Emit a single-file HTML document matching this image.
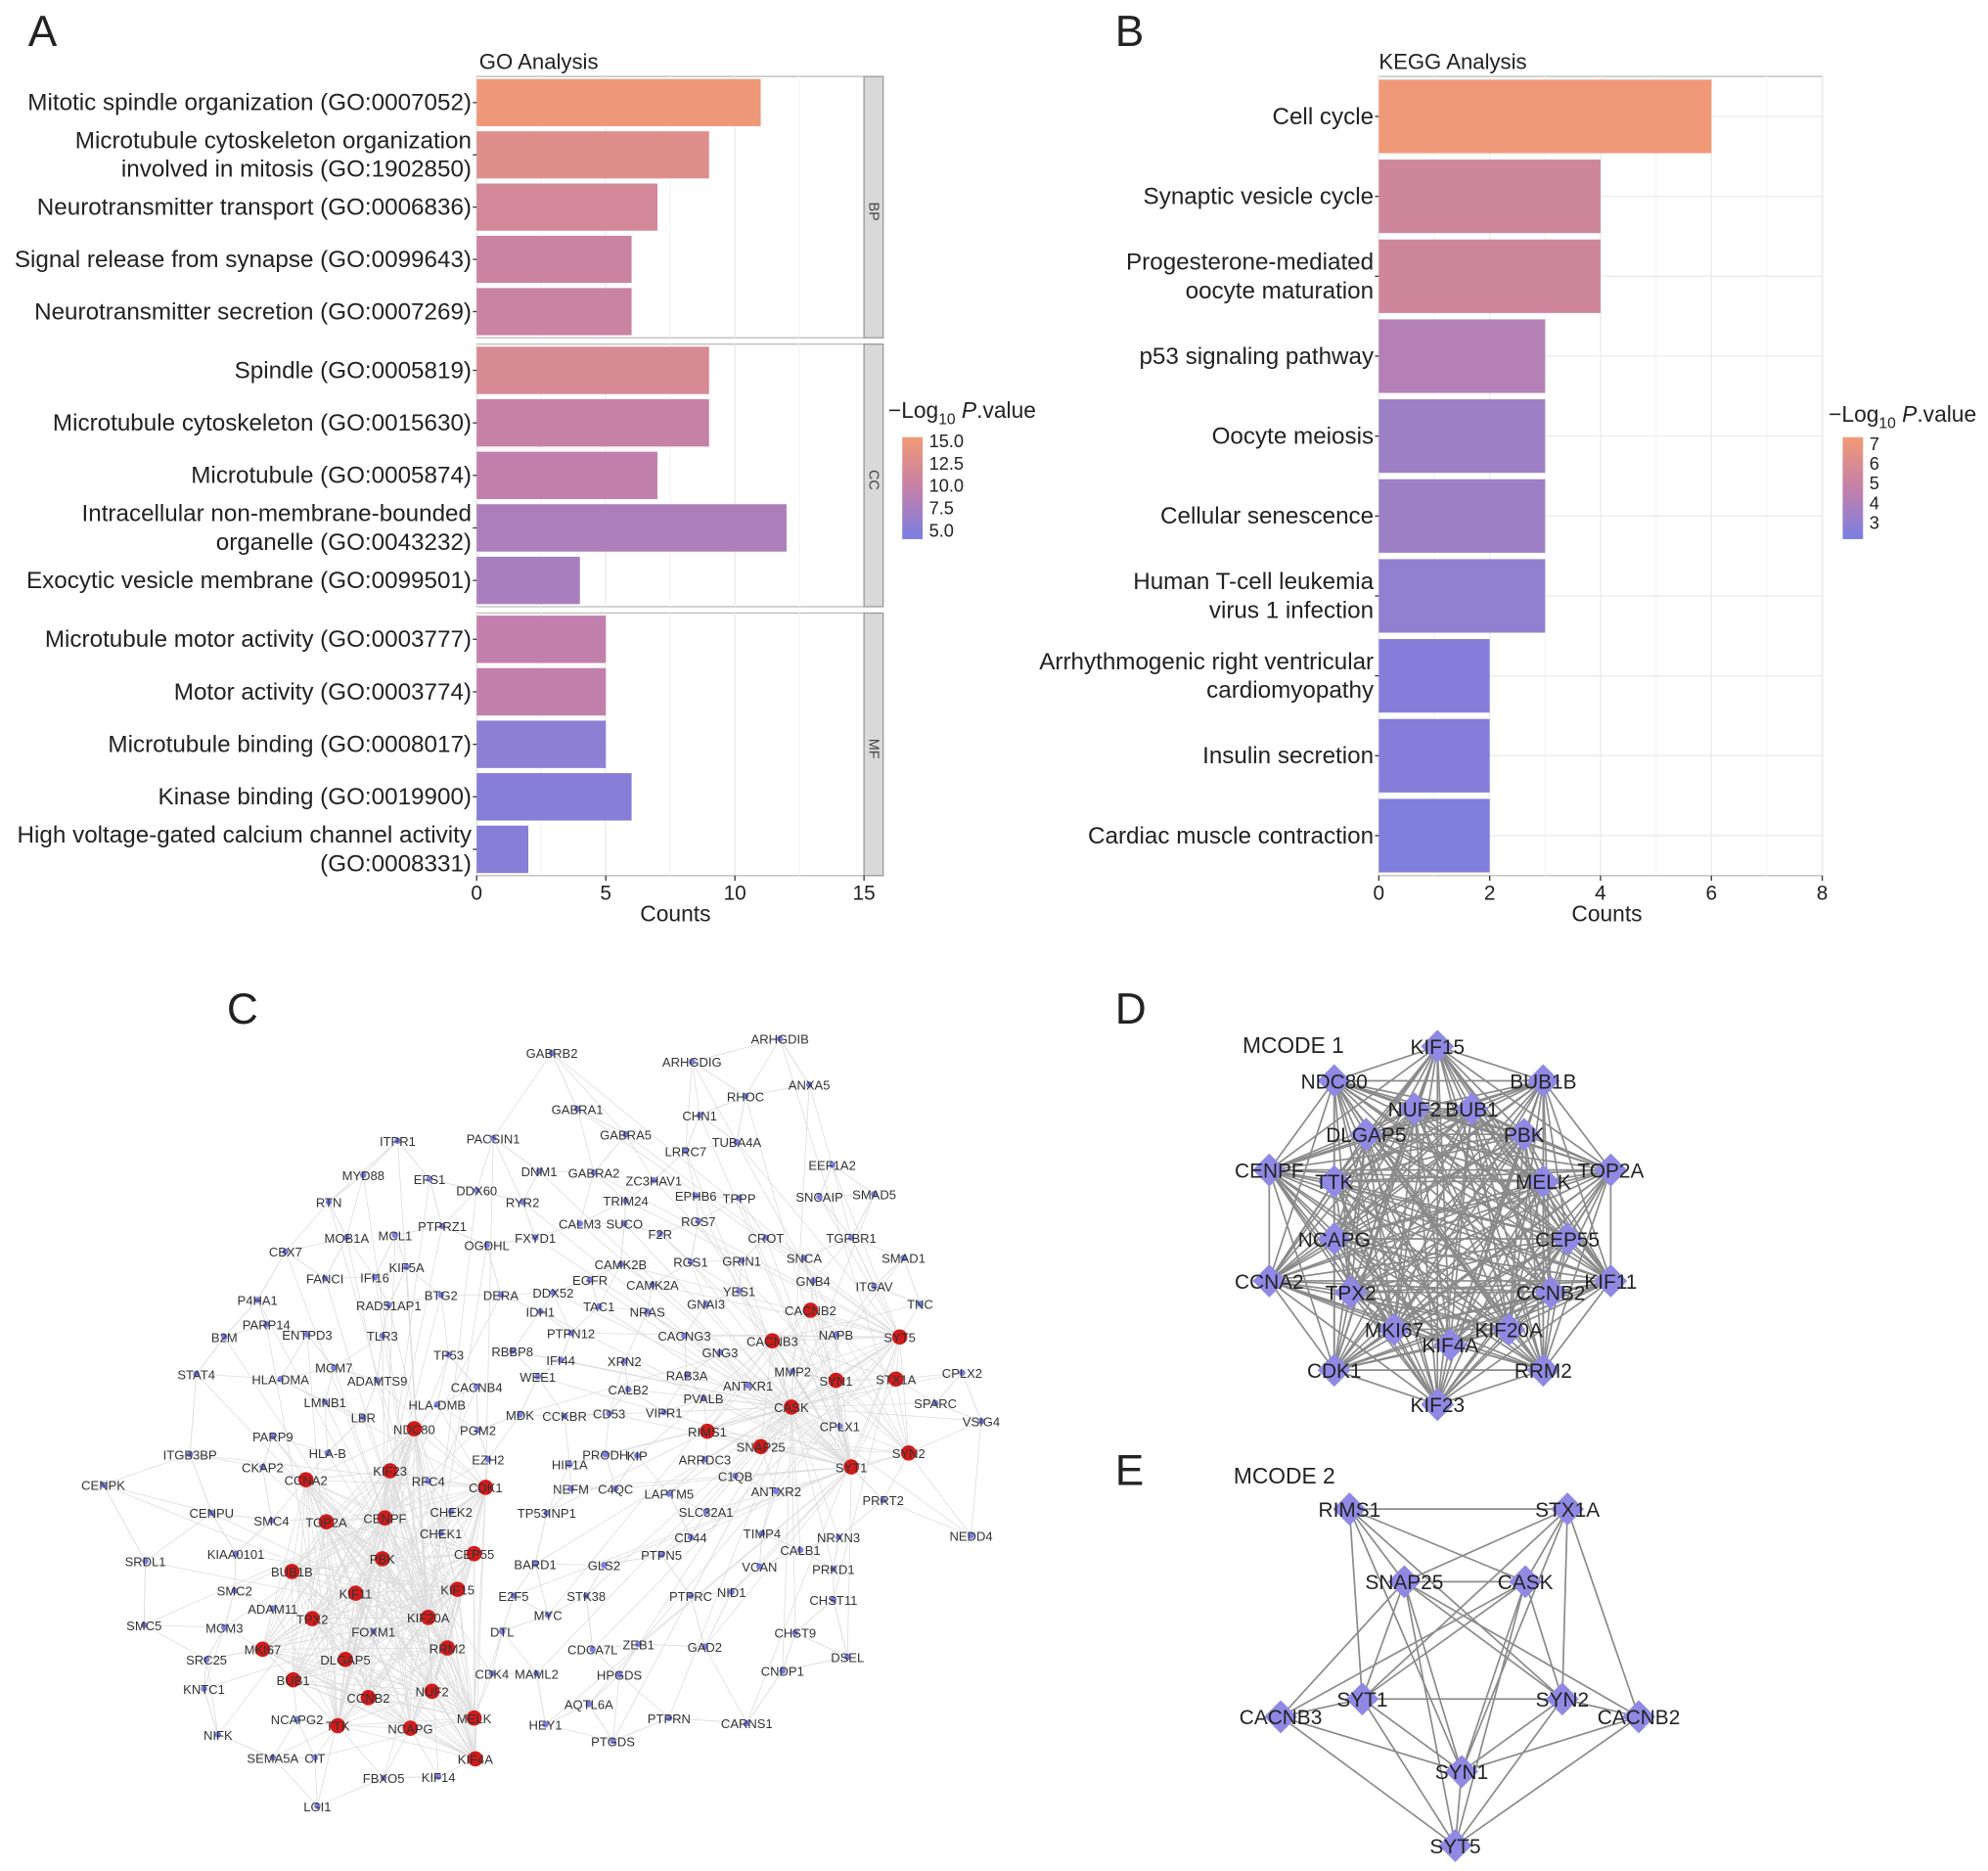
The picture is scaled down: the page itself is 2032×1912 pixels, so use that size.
<!DOCTYPE html>
<html><head><meta charset="utf-8"><style>
html,body{margin:0;padding:0;background:#fff;}
svg{display:block;font-family:"Liberation Sans",Arial,sans-serif;}
</style></head><body>
<svg id="s" width="2032" height="1912" viewBox="0 0 1560 1468" xmlns="http://www.w3.org/2000/svg"></svg>
<script>
// ---- Panel A data ----
const goTerms=[["Mitotic spindle organization (GO:0007052)"],["Microtubule cytoskeleton organization","involved in mitosis (GO:1902850)"],["Neurotransmitter transport (GO:0006836)"],["Signal release from synapse (GO:0099643)"],["Neurotransmitter secretion (GO:0007269)"],["Spindle (GO:0005819)"],["Microtubule cytoskeleton (GO:0015630)"],["Microtubule (GO:0005874)"],["Intracellular non-membrane-bounded","organelle (GO:0043232)"],["Exocytic vesicle membrane (GO:0099501)"],["Microtubule motor activity (GO:0003777)"],["Motor activity (GO:0003774)"],["Microtubule binding (GO:0008017)"],["Kinase binding (GO:0019900)"],["High voltage-gated calcium channel activity","(GO:0008331)"]];
const goCounts=[11,9,7,6,6,9,9,7,12,4,5,5,5,6,2];
const goLogP=[15,13,11.5,10.5,10.5,12,10,9.5,8,7.5,9.5,9.5,5.5,5,5];
const goFacets=["BP","CC","MF"];
const goTicks=[0,5,10,15];
const goLegend=["15.0","12.5","10.0","7.5","5.0"];
// ---- Panel B data ----
const keggTerms=[["Cell cycle"],["Synaptic vesicle cycle"],["Progesterone-mediated","oocyte maturation"],["p53 signaling pathway"],["Oocyte meiosis"],["Cellular senescence"],["Human T-cell leukemia","virus 1 infection"],["Arrhythmogenic right ventricular","cardiomyopathy"],["Insulin secretion"],["Cardiac muscle contraction"]];
const keggCounts=[6,4,4,3,3,3,3,2,2,2];
const keggLogP=[7,5.3,5.3,4.3,3.6,3.6,3.2,2.8,2.8,2.7];
const keggTicks=[0,2,4,6,8];
const keggLegend=["7","6","5","4","3"];

const S=document.getElementById('s');
const NS="http://www.w3.org/2000/svg";
function el(t,a,p){const e=document.createElementNS(NS,t);for(const k in a)e.setAttribute(k,a[k]);(p||S).appendChild(e);return e;}
function txt(x,y,s,a,p){const e=el('text',Object.assign({x:x,y:y,fill:'#222'},a),p);e.textContent=s;return e;}
function lerp(a,b,t){return Math.round(a+(b-a)*t);}
function col(t){t=Math.max(0,Math.min(1,t));const lo=[122,126,226],mi=[196,128,168],hi=[242,154,118];let a,b,u;if(t<.5){a=lo;b=mi;u=t/.5;}else{a=mi;b=hi;u=(t-.5)/.5;}return `rgb(${lerp(a[0],b[0],u)},${lerp(a[1],b[1],u)},${lerp(a[2],b[2],u)})`;}
function gradDef(id){const d=el('defs',{});const g=el('linearGradient',{id:id,x1:0,y1:1,x2:0,y2:0},d);for(let i=0;i<=10;i++)el('stop',{offset:i/10,'stop-color':col(i/10)},g);}
gradDef('cb');

[["A",22,36],["B",875,36],["C",178,803],["D",875,803],["E",875,1165]].forEach(l=>{const t=txt(l[1],l[2],l[0],{'font-size':34});});

// ---- Panel A ----
(function(){
const g=el('g',{});
const x0=374,x1=678,xmax=15;const X=v=>x0+(x1-x0)*v/xmax;
const facetY=[[60,265],[270,476],[481,687]];
txt(376,54,"GO Analysis",{'font-size':17},g);
facetY.forEach((f,fi)=>{
  el('rect',{x:x0,y:f[0],width:x1-x0,height:f[1]-f[0],fill:'#fff',stroke:'#bbb','stroke-width':1},g);
  goTicks.forEach(t=>el('line',{x1:X(t),x2:X(t),y1:f[0],y2:f[1],stroke:'#ebebeb'},g));
  [2.5,7.5,12.5].forEach(t=>el('line',{x1:X(t),x2:X(t),y1:f[0],y2:f[1],stroke:'#f5f5f5'},g));
  const st=el('rect',{x:x1,y:f[0],width:15,height:f[1]-f[0],fill:'#d9d9d9',stroke:'#999'},g);
  
  const cy=(f[0]+f[1])/2;txt(x1+7.5,cy,goFacets[fi],{'font-size':11,'text-anchor':'middle',transform:`rotate(90 ${x1+4} ${cy})`,fill:'#444'},g);
});
goCounts.forEach((c,i)=>{
  const fi=Math.floor(i/5),k=i%5,f=facetY[fi],bh=(f[1]-f[0])/5;const y=f[0]+k*bh;
  const r=el('rect',{x:x0,y:y+2,width:X(c)-x0,height:bh-4,fill:col((goLogP[i]-4)/11.5)},g);
  
  const lines=goTerms[i];const cy=y+bh/2;
  lines.forEach((s,j)=>txt(370,cy+6+(j-(lines.length-1)/2)*22.5,s,{'font-size':18.6,'text-anchor':'end'},g));
  el('line',{x1:x0-3,x2:x0,y1:cy,y2:cy,stroke:'#333'},g);
});
goTicks.forEach(t=>{el('line',{x1:X(t),x2:X(t),y1:687,y2:691,stroke:'#333'},g);txt(X(t),706,String(t),{'font-size':16,'text-anchor':'middle'},g);});
const xt=txt(530,723,"Counts",{'font-size':17.5,'text-anchor':'middle'},g);
const lg=el('g',{},g);
const lt=txt(697,328,"",{'font-size':17.5},lg);lt.innerHTML='−Log<tspan font-size="12" dy="5">10</tspan><tspan dy="-5"> </tspan><tspan font-style="italic">P</tspan>.value';
el('rect',{x:708,y:343,width:16,height:80,fill:'url(#cb)'},lg);
goLegend.forEach((s,i)=>txt(729,351+i*17.5,s,{'font-size':14},lg));
})();

// ---- Panel B ----
(function(){
const g=el('g',{});
const x0=1082,x1=1430,xmax=8;const X=v=>x0+(x1-x0)*v/xmax;const y0=60,y1=687;
txt(1082,54,"KEGG Analysis",{'font-size':17},g);
el('rect',{x:x0,y:y0,width:x1-x0,height:y1-y0,fill:'#fff',stroke:'#bbb'},g);
keggTicks.forEach(t=>el('line',{x1:X(t),x2:X(t),y1:y0,y2:y1,stroke:'#ebebeb'},g));
[1,3,5,7].forEach(t=>el('line',{x1:X(t),x2:X(t),y1:y0,y2:y1,stroke:'#f5f5f5'},g));
const bh=(y1-y0)/keggCounts.length;
keggCounts.forEach((c,i)=>{
  const y=y0+i*bh;el('line',{x1:x0,x2:x1,y1:y+bh/2,y2:y+bh/2,stroke:'#ebebeb'},g);
  const r=el('rect',{x:x0,y:y+2.5,width:X(c)-x0,height:bh-5,fill:col((keggLogP[i]-2.5)/4.6)},g);
  
  const lines=keggTerms[i];const cy=y+bh/2;
  lines.forEach((s,j)=>txt(1078,cy+6+(j-(lines.length-1)/2)*22.5,s,{'font-size':18.6,'text-anchor':'end'},g));
  el('line',{x1:x0-3,x2:x0,y1:cy,y2:cy,stroke:'#333'},g);
});
keggTicks.forEach(t=>{el('line',{x1:X(t),x2:X(t),y1:y1,y2:y1+4,stroke:'#333'},g);txt(X(t),706,String(t),{'font-size':16,'text-anchor':'middle'},g);});
const xt=txt(1261,723,"Counts",{'font-size':17.5,'text-anchor':'middle'},g);
const lg=el('g',{},g);
const lt=txt(1435,331,"",{'font-size':17.5},lg);lt.innerHTML='−Log<tspan font-size="12" dy="5">10</tspan><tspan dy="-5"> </tspan><tspan font-style="italic">P</tspan>.value';
el('rect',{x:1446,y:343,width:16,height:80,fill:'url(#cb)'},lg);
keggLegend.forEach((s,i)=>txt(1467,353+i*15.5,s,{'font-size':14},lg));
})();

// ---- Panel C network ----
const netNodes=`GABRB2 433 826;ARHGDIB 612 815;ARHGDIG 543 833;ANXA5 635 851;RHOC 585 860;GABRA1 453 870;CHN1 549 875;GABRA5 491 890;TUBA4A 578 896;ITPR1 312 895;PACSIN1 387 893;LRRC7 538 903;MYD88 285 922;EFS1 337 925;DNM1 423 919;GABRA2 466 920;ZC3HAV1 513 926;EEF1A2 653 914;DDX60 374 934;RYR2 410 943;TRIM24 491 942;EPHB6 546 938;TPPP 580 940;SNCAIP 643 939;SMAD5 686 937;RTN 258 943;MCL1 310 969;PTPRZ1 347 962;CALM3 455 960;SUCO 490 960;RGS7 548 958;MOB1A 272 971;OGDHL 382 977;FXYD1 420 971;F2R 518 968;CROT 601 971;TGFBR1 668 971;CBX7 224 982;IFI16 294 1002;KIF5A 319 994;FANCI 255 1003;CAMK2B 487 992;RGS1 542 990;GRIN1 582 989;SNCA 631 987;SMAD1 709 987;EGFR 463 1004;GNB4 638 1005;ITGAV 686 1009;P4HA1 202 1020;RAD51AP1 305 1024;BTG2 346 1016;DERA 393 1016;DDX52 434 1014;CAMK2A 512 1008;YES1 580 1013;TNC 722 1023;PARP14 209 1039;IDH1 424 1029;TAC1 470 1025;NRAS 508 1029;GNAI3 554 1023;CACNB2 636 1028 r;B2M 176 1049;ENTPD3 241 1047;TLR3 300 1048;PTPN12 448 1046;CACNG3 537 1048;CACNB3 606 1052 r;NAPB 656 1047;SYT5 706 1049 r;TP53 352 1063;RBBP8 402 1060;GNG3 565 1061;IFI44 440 1067;XRN2 490 1068;STAT4 154 1078;HLA-DMA 220 1082;MCM7 262 1073;ADAMTS9 296 1083;RAB3A 539 1079;MMP2 622 1076;SYN1 656 1083 r;STX1A 703 1082 r;CPLX2 755 1077;CACNB4 374 1088;WEE1 422 1080;CALB2 493 1090;ANTXR1 587 1087;LMNB1 255 1100;HLA-DMB 343 1102;PVALB 552 1097;SPARC 734 1101;LBR 285 1112;NDC80 325 1121 r;MDK 408 1110;CCKBR 443 1111;CD53 478 1109;VIPR1 521 1108;CASK 621 1104 r;CPLX1 659 1119;VSIG4 770 1115;PARP9 214 1127;PGM2 375 1122;RIMS1 555 1123 r;ITGB3BP 149 1141;HLA-B 257 1140;EZH2 383 1145;HIF1A 447 1149;PRODH 475 1141;KIP 500 1142;ARRDC3 553 1145;SNAP25 597 1135 r;SYT1 668 1151 r;SYN2 713 1140 r;CKAP2 206 1151;KIF23 306 1154 r;CCNA2 240 1161 r;RFC4 336 1162;CDK1 381 1167 r;C1QB 577 1158;CENPK 81 1165;NEFM 448 1168;C4QC 483 1168;LAPTM5 525 1172;ANTXR2 609 1170;PRRT2 693 1177;CENPU 166 1187;SMC4 213 1193;TOP2A 256 1194 r;CENPF 302 1191 r;CHEK2 354 1186;TP53INP1 429 1187;SLC32A1 554 1186;CHEK1 346 1203;CD44 542 1206;TIMP4 598 1203;NRXN3 658 1206;NEDD4 762 1205;SRDL1 114 1225;KIAA0101 185 1219;BUB1B 229 1233 r;PBK 300 1223 r;CEP55 372 1219 r;BARD1 420 1227;GLS2 474 1228;PTPN5 519 1220;CALB1 628 1216;PRKD1 654 1231;VCAN 596 1229;SMC2 184 1248;KIF11 279 1250 r;KIF15 359 1247 r;E2F5 403 1252;STK38 460 1252;PTPRC 542 1252;NID1 574 1249;CHST11 654 1255;ADAM11 214 1262;TPX2 245 1270 r;KIF20A 336 1269 r;MYC 430 1267;FOXM1 293 1280;DTL 394 1280;SMC5 113 1275;MCM3 176 1277;CDCA7L 465 1294;ZEB1 501 1290;GAD2 553 1292;CHST9 624 1281;DSEL 665 1300;SRC25 162 1302;MKI67 206 1294 r;DLGAP5 271 1302 r;RRM2 351 1293 r;CDK4 386 1313;MAML2 421 1313;HPGDS 486 1314;CNDP1 614 1311;BUB1 230 1318 r;KNTC1 160 1325;CCNB2 289 1332 r;NUF2 339 1327 r;AQTL6A 462 1337;NCAPG2 233 1349;TTK 265 1354 r;NCAPG 322 1356 r;MELK 372 1348 r;HEY1 428 1353;PTPRN 525 1348;CARNS1 586 1352;NIFK 171 1361;PTGDS 481 1366;SEMA5A 214 1379;CIT 247 1379;KIF4A 373 1380 r;FBXO5 301 1395;KIF14 344 1394;LGI1 249 1417`.split(';').map(s=>{const p=s.trim().split(' ');return {n:p[0],x:+p[1],y:+p[2],r:p[3]==='r'};});
(function(){
const g=el('g',{});
const eg=el('g',{stroke:'#d4d4d4','stroke-width':0.6,opacity:0.8},g);
const N=netNodes;
const red=N.filter(n=>n.r);const prol=red.filter(n=>n.x<450),syn=red.filter(n=>n.x>=450);
[prol,syn].forEach(grp=>{for(let i=0;i<grp.length;i++)for(let j=i+1;j<grp.length;j++)el('line',{x1:grp[i].x,y1:grp[i].y,x2:grp[j].x,y2:grp[j].y},eg);});
N.forEach(a=>{if(a.r)return;const d=N.filter(b=>b!==a).map(b=>[b,(b.x-a.x)**2+(b.y-a.y)**2]).sort((p,q)=>p[1]-q[1]);
  for(let k=0;k<3;k++){const b=d[k][0];el('line',{x1:a.x,y1:a.y,x2:b.x,y2:b.y},eg);}
  const grp=a.x<400?prol:syn;const h=grp[(a.n.length*7)%grp.length];el('line',{x1:a.x,y1:a.y,x2:h.x,y2:h.y},eg);});
N.forEach(n=>{const c=el('circle',{cx:n.x,cy:n.y,r:n.r?6:2.5,fill:n.r?'#d11b1b':'#7b7fe0'},g);
  
  txt(n.x,n.y+4,n.n,{'font-size':10,'text-anchor':'middle',fill:'#333'},g);});
})();

// ---- Panels D/E ----
const mcode1=`KIF15 1128 821;NDC80 1047 848;BUB1B 1211 848;NUF2 1110 870;BUB1 1155 870;DLGAP5 1072 890;PBK 1196 890;CENPF 996 918;TOP2A 1264 918;TTK 1047 927;MELK 1211 927;NCAPG 1047 972;CEP55 1230 972;CCNA2 996 1005;KIF11 1264 1005;TPX2 1060 1014;CCNB2 1217 1014;MKI67 1094 1043;KIF4A 1138 1055;KIF20A 1184 1043;CDK1 1047 1075;RRM2 1211 1075;KIF23 1128 1102`.split(';').map(s=>{const p=s.split(' ');return {n:p[0],x:+p[1],y:+p[2]};});
const mcode2=`RIMS1 1059 1184;STX1A 1230 1184;SNAP25 1102 1241;CASK 1197 1241;SYT1 1069 1333;SYN2 1226 1333;CACNB3 1005 1347;CACNB2 1286 1347;SYN1 1147 1390;SYT5 1142 1448`.split(';').map(s=>{const p=s.split(' ');return {n:p[0],x:+p[1],y:+p[2]};});
const mcode2Edges=[[0,1],[0,2],[0,3],[0,4],[0,5],[0,8],[1,2],[1,3],[1,4],[1,5],[1,7],[1,8],[2,3],[2,4],[2,5],[2,6],[2,7],[2,8],[2,9],[3,4],[3,5],[3,6],[3,8],[3,9],[4,5],[4,6],[4,8],[4,9],[5,7],[5,8],[5,9],[6,8],[6,9],[7,8],[7,9],[8,9]];
function drawNet(nodes,edges,name,title,tx,ty){
  const g=el('g',{});
  txt(tx,ty,title,{'font-size':17.5},g);
  const eg=el('g',{stroke:'#8a8a8a','stroke-width':1.3},g);
  edges.forEach(e=>{const a=nodes[e[0]],b=nodes[e[1]];el('line',{x1:a.x,y1:a.y,x2:b.x,y2:b.y},eg);});
  nodes.forEach(n=>{const d=el('path',{d:`M${n.x} ${n.y-13}L${n.x+13} ${n.y}L${n.x} ${n.y+13}L${n.x-13} ${n.y}Z`,fill:'#8f89e4'},g);
    
    txt(n.x,n.y+6,n.n,{'font-size':16,'text-anchor':'middle',fill:'#222'},g);});
}
const e1=[];for(let i=0;i<mcode1.length;i++)for(let j=i+1;j<mcode1.length;j++)e1.push([i,j]);
drawNet(mcode1,e1,'mcode1-network','MCODE 1',975,826);
drawNet(mcode2,mcode2Edges,'mcode2-network','MCODE 2',968,1164);
</script>
</body></html>
